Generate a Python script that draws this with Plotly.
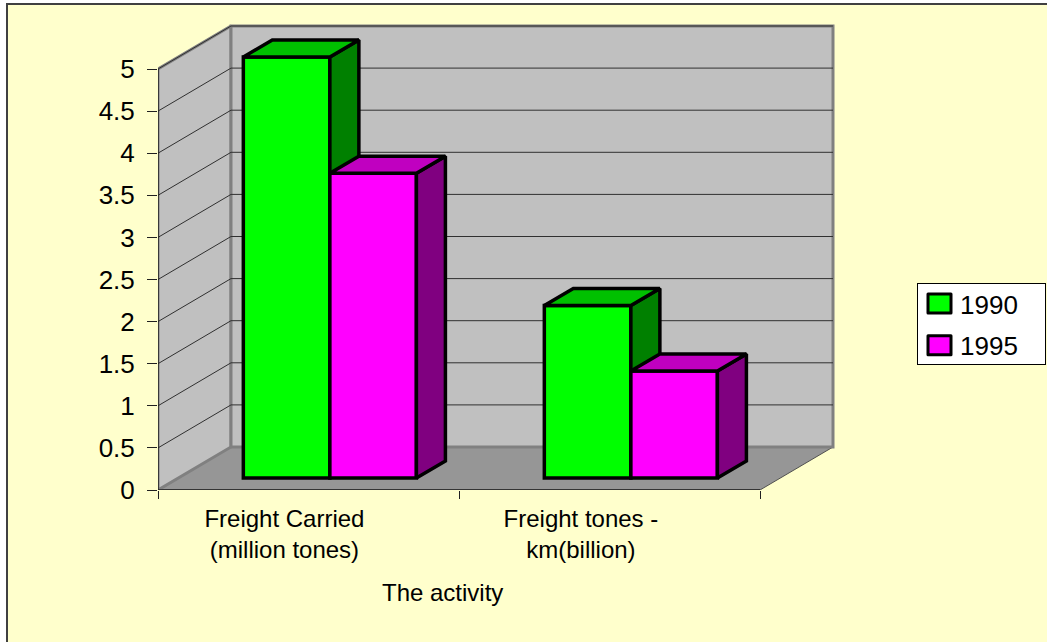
import plotly.graph_objects as go

categories = ["Freight Carried<br>(million tones)", "Freight tones -<br>km(billion)"]
series_names = ["1990", "1995"]
values_1990 = [5.0, 2.05]
values_1995 = [3.62, 1.27]
y_ticks = [0, 0.5, 1, 1.5, 2, 2.5, 3, 3.5, 4, 4.5, 5]
y_tick_text = ["0", "0.5", "1", "1.5", "2", "2.5", "3", "3.5", "4", "4.5", "5"]

W, H = 1047, 642
PX0, PY0 = 158, 490
UX, UY = 301.0, 84.2
PLOT_R, PLOT_T = 840, 20
WALL_DX, WALL_DY = 73 / UX, 43 / UY
BAR_DX, BAR_DY = 29 / UX, 17 / UY
BASE = 12 / UY
BAR_W = 0.2875
GROUP_SHIFT = 0.571
FONT = "Liberation Sans"

XR = [0, (PLOT_R - PX0) / UX]
YR = [0, (PY0 - PLOT_T) / UY]
PW, PH = PLOT_R - PX0, PY0 - PLOT_T


def poly(points):
    return [p[0] for p in points] + [points[0][0], None], [p[1] for p in points] + [points[0][1], None]


def join(polys):
    xs, ys = [], []
    for p in polys:
        a, b = poly(p)
        xs += a
        ys += b
    return xs, ys


fig = go.Figure()

# floor, then walls
for pts, colour, edge, ew in [
    ([(0, 0), (2, 0), (2 + WALL_DX, WALL_DY), (WALL_DX, WALL_DY)], "#969696", "#505050", 1),
    ([(0, 0), (WALL_DX, WALL_DY), (WALL_DX, 5 + WALL_DY), (0, 5)], "#C0C0C0", "#808080", 3),
    ([(WALL_DX, WALL_DY), (2 + WALL_DX, WALL_DY), (2 + WALL_DX, 5 + WALL_DY), (WALL_DX, 5 + WALL_DY)], "#C0C0C0", "#808080", 3),
]:
    xs, ys = poly(pts)
    fig.add_trace(go.Scatter(x=xs, y=ys, mode="lines", fill="toself", fillcolor=colour,
                             line=dict(color=edge, width=ew), showlegend=False, hoverinfo="skip"))

# gridlines
gx, gy = [], []
for t in y_ticks[1:]:
    gx += [0, WALL_DX, 2 + WALL_DX, None]
    gy += [t, t + WALL_DY, t + WALL_DY, None]
fig.add_trace(go.Scatter(x=gx, y=gy, mode="lines", line=dict(color="#303030", width=1),
                         showlegend=False, hoverinfo="skip"))
# axis lines
fig.add_trace(go.Scatter(x=[0, 0, 2], y=[5, 0, 0], mode="lines", line=dict(color="#202020", width=1.5),
                         showlegend=False, hoverinfo="skip"))

# series
for i, (name, vals, front, side, top) in enumerate([
    (series_names[0], values_1990, "#00FF00", "#008000", "#00C000"),
    (series_names[1], values_1995, "#FF00FF", "#800080", "#C000C0"),
]):
    xa, ya = f"x{i + 2}", f"y{i + 2}"
    lefts = [c + GROUP_SHIFT + (i - 1) * BAR_W for c in range(len(vals))]
    fig.add_trace(go.Bar(x=[l + BAR_W / 2 for l in lefts], y=vals, base=BASE, width=BAR_W, name=name,
                         marker=dict(color=front, line=dict(color="black", width=3.5)),
                         xaxis=xa, yaxis=ya))
    side_polys, top_polys = [], []
    for l, v in zip(lefts, vals):
        r = l + BAR_W
        t = BASE + v
        side_polys.append([(r, BASE), (r + BAR_DX, BASE + BAR_DY), (r + BAR_DX, t + BAR_DY), (r, t)])
        top_polys.append([(l, t), (r, t), (r + BAR_DX, t + BAR_DY), (l + BAR_DX, t + BAR_DY)])
    for polys, colour in [(side_polys, side), (top_polys, top)]:
        xs, ys = join(polys)
        fig.add_trace(go.Scatter(x=xs, y=ys, mode="lines", fill="toself", fillcolor=colour,
                                 line=dict(color="black", width=3.5), showlegend=False, hoverinfo="skip",
                                 xaxis=xa, yaxis=ya))

overlay = dict(range=XR, visible=False, overlaying="x", fixedrange=True)
overlay_y = dict(range=YR, visible=False, overlaying="y", fixedrange=True)

fig.update_layout(
    width=W, height=H, autosize=False,
    margin=dict(l=PX0, r=W - PLOT_R, t=PLOT_T, b=H - PY0, pad=0),
    paper_bgcolor="white", plot_bgcolor="rgba(0,0,0,0)",
    font=dict(family=FONT, size=24, color="black"),
    barmode="overlay",
    showlegend=True,
    legend=dict(x=(917 - PX0) / PW, y=(PY0 - 281) / PH, xanchor="left", yanchor="top",
                bgcolor="white", bordercolor="black", borderwidth=1, font=dict(size=26),
                itemwidth=32),
    xaxis=dict(range=XR, showgrid=False, zeroline=False, showline=False, fixedrange=True,
               tickmode="array", tickvals=[0.42, 1.405], ticktext=categories, ticks="", tickfont=dict(size=24),
               ticklabelstandoff=12,
               minor=dict(tickmode="array", tickvals=[0, 1, 2], ticks="outside", ticklen=8, tickcolor="#202020", tickwidth=1)),
    yaxis=dict(range=YR, showgrid=False, zeroline=False, showline=False, fixedrange=True,
               tickmode="array", tickvals=y_ticks, ticktext=y_tick_text, ticks="outside", ticklen=10,
               tickcolor="#202020", tickwidth=1, tickfont=dict(size=26), ticklabelstandoff=7),
    xaxis2=overlay, yaxis2=overlay_y, xaxis3=overlay, yaxis3=overlay_y,
    annotations=[dict(text="The activity", xref="paper", yref="paper", x=(442 - PX0) / PW,
                      y=(PY0 - 592) / PH, yanchor="middle", showarrow=False, font=dict(size=24))],
    shapes=[dict(type="rect", xref="paper", yref="paper", layer="below",
                 x0=(7 - PX0) / PW, x1=(1080 - PX0) / PW, y0=(PY0 - 660) / PH, y1=(PY0 - 4) / PH,
                 fillcolor="#FFFFCC", line=dict(color="#404040", width=2))],
)

post = """
document.body.style.margin = '0';
function tweakLegend() {
  document.querySelectorAll('.legend .legendpoints path').forEach(function (p) {
    p.setAttribute('d', 'M12,9.5H-11V-9.5H12Z');
    p.style.strokeWidth = '3px';
    p.style.strokeLinejoin = 'round';
  });
  document.querySelectorAll('.legend rect.bg').forEach(function (r) {
    r.setAttribute('width', '128');
    r.setAttribute('y', '2.5');
    r.setAttribute('height', '81');
  });
  var shifts = [-2, 3];
  document.querySelectorAll('.legend .traces').forEach(function (g, i) {
    var m = /translate\\(([-\\d.]+)[ ,]+([-\\d.]+)\\)/.exec(g.getAttribute('transform') || '');
    if (m && !g.dataset.moved) {
      g.setAttribute('transform', 'translate(' + m[1] + ',' + (parseFloat(m[2]) + shifts[i]) + ')');
      g.dataset.moved = '1';
    }
  });
}
tweakLegend();
setTimeout(tweakLegend, 0);
setTimeout(tweakLegend, 100);
setTimeout(tweakLegend, 400);
"""
fig.write_html("out.html", post_script=post, config=dict(displayModeBar=False))
